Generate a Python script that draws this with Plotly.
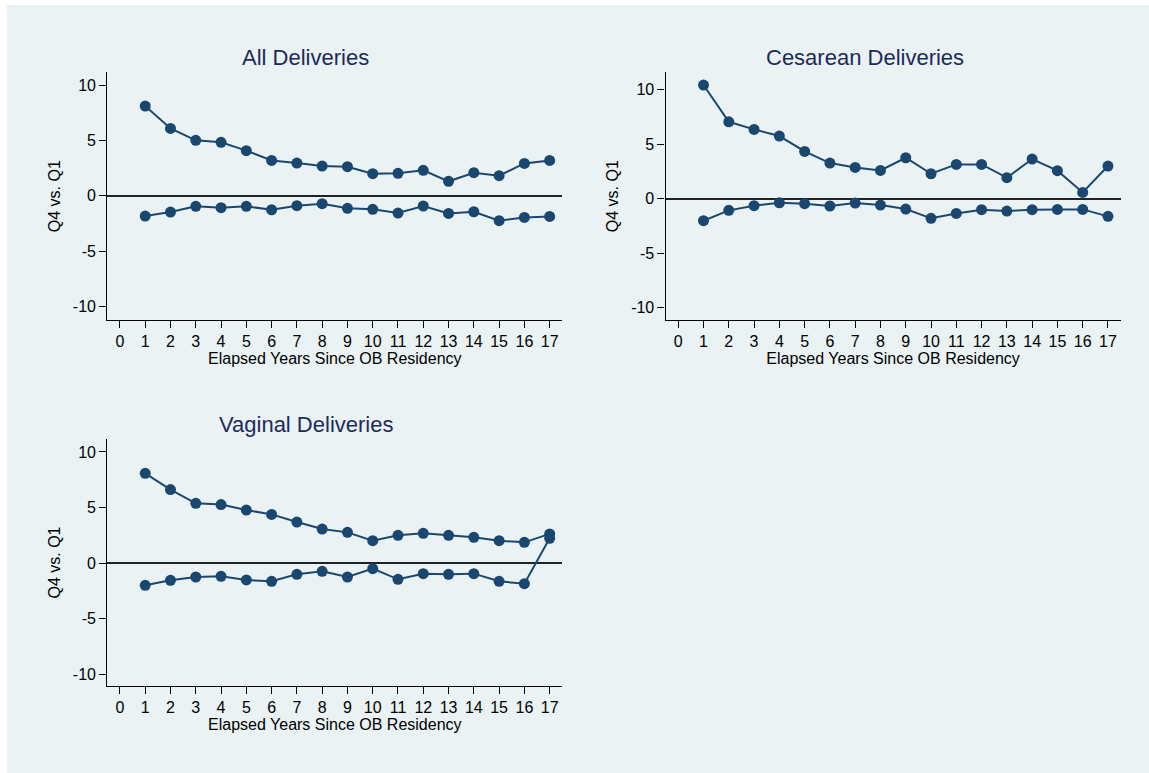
import plotly.graph_objects as go

years = list(range(1, 18))
x_ticks = list(range(0, 18))
y_ticks = [-10, -5, 0, 5, 10]
y_ticktext = ["-10", "-5", "0", "5", "10"]

titles = ["All Deliveries", "Cesarean Deliveries", "Vaginal Deliveries"]

all_upper = [8.10, 6.08, 5.00, 4.82, 4.07, 3.19, 2.95, 2.68, 2.62, 1.99, 2.02, 2.29, 1.30, 2.08, 1.81, 2.92, 3.19]
all_lower = [-1.84, -1.48, -0.96, -1.08, -0.96, -1.27, -0.90, -0.72, -1.14, -1.23, -1.57, -0.93, -1.60, -1.45, -2.26, -1.96, -1.87]

ces_upper = [10.43, 7.06, 6.36, 5.75, 4.34, 3.27, 2.87, 2.60, 3.76, 2.29, 3.15, 3.15, 1.93, 3.64, 2.57, 0.58, 3.00]
ces_lower = [-2.02, -1.07, -0.64, -0.37, -0.46, -0.67, -0.40, -0.58, -0.95, -1.80, -1.35, -1.01, -1.13, -1.01, -0.98, -0.98, -1.62]

vag_upper = [8.08, 6.61, 5.38, 5.26, 4.77, 4.38, 3.69, 3.06, 2.76, 2.01, 2.49, 2.67, 2.49, 2.31, 2.01, 1.86, 2.62]
vag_lower = [-2.01, -1.56, -1.26, -1.20, -1.53, -1.65, -1.02, -0.75, -1.26, -0.51, -1.47, -0.96, -1.02, -0.96, -1.65, -1.86, 2.22]

W, H = 1149, 773
NAVY = "#1a476f"
BG = "#eaf2f3"
TITLE_COLOR = "#1c2b5a"
FONT = "Arial, Liberation Sans, sans-serif"

# panel pixel boxes: (left, right, top, bottom)
boxes = [(107.3, 562.3, 72.3, 320.0), (665.6, 1120.6, 72.3, 320.0), (107.3, 562.3, 439.0, 686.0)]
title_centers = [305, 865, 306]
yranges = [[-11.23, 11.15], [-11.13, 11.6], [-11.08, 11.17]]
series = [(all_upper, all_lower), (ces_upper, ces_lower), (vag_upper, vag_lower)]

fig = go.Figure()
layout = dict(
    width=W, height=H,
    margin=dict(l=0, r=0, t=0, b=0),
    paper_bgcolor="white",
    plot_bgcolor="white",
    showlegend=False,
    font=dict(family=FONT, size=16, color="black"),
    shapes=[dict(type="rect", xref="paper", yref="paper",
                 x0=7 / W, x1=1, y0=0, y1=1 - 5 / H,
                 fillcolor=BG, line=dict(width=0), layer="below")],
    annotations=[],
)

for i, (box, yr, (up, lo), title, tc) in enumerate(zip(boxes, yranges, series, titles, title_centers)):
    n = "" if i == 0 else str(i + 1)
    l, r, t, b = box
    xdom = [l / W, r / W]
    ydom = [1 - b / H, 1 - t / H]
    for vals in (up, lo):
        fig.add_trace(go.Scatter(
            x=years, y=vals, mode="lines+markers",
            line=dict(color=NAVY, width=2),
            marker=dict(color=NAVY, size=11),
            xaxis="x" + n, yaxis="y" + n, hoverinfo="x+y"))
    layout["xaxis" + n] = dict(
        domain=xdom, anchor="y" + n, range=[-0.5, 17.5],
        tickmode="array", tickvals=x_ticks, ticktext=[str(v) for v in x_ticks],
        ticks="outside", ticklen=7, tickwidth=1.2, tickcolor="black",
        showline=True, linecolor="black", linewidth=1.3,
        showgrid=False, zeroline=False,
        tickfont=dict(size=16, color="black"),
        title=dict(text="Elapsed Years Since OB Residency", standoff=0,
                   font=dict(size=16, color="black")),
    )
    layout["yaxis" + n] = dict(
        domain=ydom, anchor="x" + n, range=yr,
        tickmode="array", tickvals=y_ticks, ticktext=y_ticktext,
        ticks="outside", ticklen=7, tickwidth=1.2, tickcolor="black",
        showline=True, linecolor="black", linewidth=1.3,
        showgrid=True, gridcolor=BG, gridwidth=1.5,
        zeroline=True, zerolinecolor="#222222", zerolinewidth=1.5,
        tickfont=dict(size=16, color="black"),
        title=dict(text="Q4 vs. Q1", standoff=8, font=dict(size=16, color="black")),
    )
    layout["annotations"].append(dict(
        text=title, xref="paper", yref="paper",
        x=tc / W, y=ydom[1], yshift=0,
        xanchor="center", yanchor="bottom", showarrow=False,
        font=dict(size=22, color=TITLE_COLOR, family=FONT)))

fig.update_layout(**layout)
fig.write_html("out.html")
